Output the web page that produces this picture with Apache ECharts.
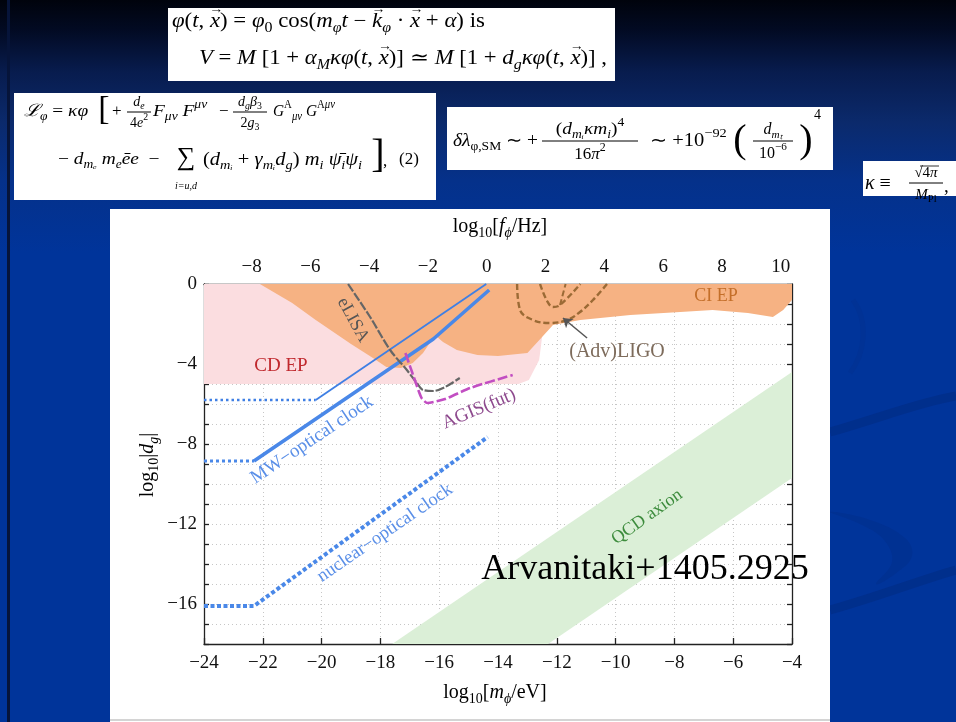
<!DOCTYPE html>
<html>
<head>
<meta charset="utf-8">
<script src="https://cdn.jsdelivr.net/npm/echarts@6/dist/echarts.min.js"></script>
<style>
  html, body { margin: 0; padding: 0; background: #00349a; }
  #c { width: 956px; height: 722px; }
</style>
</head>
<body>
<div id="c"></div>
<script>
// ---- axis ticks ----
const massTicks = [-24, -22, -20, -18, -16, -14, -12, -10, -8, -6, -4];   // log10[m/eV]
const freqTicks = [-8, -6, -4, -2, 0, 2, 4, 6, 8, 10];                    // log10[f/Hz]
const couplingTicks = [0, -4, -8, -12, -16];                              // log10|d_g|
const LOG_HZ_PER_EV = 14.383;                                             // log10(1 eV / h in Hz)

// ---- excluded / projected regions, points are [log10 m, log10 |d_g|] ----
const cdEP = [[-24, 0], [-13.0, 0], [-12.5, -2.65], [-12.6, -3.8], [-12.95, -4.8], [-13.3, -5.0], [-24, -5.0]];
const ciEP = [[-22.1, 0], [-21.0, -0.95], [-20.2, -1.8], [-19.0, -3.0], [-18.2, -3.75], [-17.8, -4.15],
              [-17.3, -4.2], [-16.9, -3.95], [-16.55, -3.45], [-16.3, -2.9], [-16.07, -2.65],
              [-15.87, -2.9], [-15.4, -3.3], [-14.7, -3.55], [-14.0, -3.6], [-13.0, -3.45],
              [-12.5, -2.65], [-12.13, -2.05], [-11.2, -1.8], [-9.5, -1.55], [-7.8, -1.4],
              [-6.7, -1.3], [-5.5, -1.45], [-4.65, -1.65], [-4.3, -1.3], [-4, -0.8], [-4, 0]];
const qcdAxion = [[-17.6, -18], [-12.3, -18], [-4, -9.7], [-4, -4.4]];

// ---- sensitivity curves ----
const mwClockFlat = [[-24, -8.85], [-22.3, -8.85]];
const mwClock = [[-22.3, -8.85], [-16.2, -2.75], [-14.3, -0.3]];
const mwClockNowFlat = [[-24, -5.8], [-20.2, -5.8]];
const mwClockNow = [[-20.2, -5.8], [-14.4, 0]];
const nuclearClock = [[-24, -16.1], [-22.3, -16.1], [-14.35, -7.65]];
const eLISA = [[-19.1, 0], [-18.35, -1.65], [-17.67, -3.3], [-17.1, -4.3], [-16.76, -4.95],
               [-16.55, -5.3], [-16.2, -5.35], [-15.8, -5.15], [-15.3, -4.7]];
const agis = [[-17.15, -3.45], [-16.9, -4.5], [-16.6, -5.7], [-16.4, -5.95], [-15.8, -5.75],
              [-14.95, -5.2], [-13.5, -4.55]];
const ligoOuter = [[-13.35, 0], [-13.25, -1.3], [-12.81, -1.8], [-12.23, -1.95], [-11.65, -1.8],
                   [-11.21, -1.4], [-10.77, -0.8], [-10.29, 0]];
const ligoInner = [[-12.57, 0], [-12.33, -0.85], [-12.13, -1.15], [-11.89, -1.05], [-11.2, 0]];
const ligoBranch = [[-11.89, -1.05], [-11.7, 0]];
const ligoPointer = [[-10.97, -2.7], [-11.79, -1.7]];

const SERIF = '"Liberation Serif", "Times New Roman", serif';
const minus = v => String(v).replace('-', '\u2212');

// ---- small math typesetting helper: lays out roman / italic / sub / sup runs ----
const measureCtx = document.createElement('canvas').getContext('2d');
const RUN = {
  r:  { s: 1,   it: false, dy: 0 },
  i:  { s: 1,   it: true,  dy: 0 },
  v:  { s: 1,   it: true,  dy: 0, vec: true },     // italic with vector arrow
  b:  { s: 0.7, it: true,  dy: 0.3 },               // italic subscript
  br: { s: 0.7, it: false, dy: 0.3 },               // roman subscript
  t:  { s: 0.7, it: false, dy: -0.4 },              // roman superscript
  ti: { s: 0.7, it: true,  dy: -0.4 }               // italic superscript
};
function typeset(x, y, parts, fs, opt) {
  opt = opt || {};
  const color = opt.color || '#000';
  const kids = [];
  let cx = 0;
  parts.forEach(function (p) {
    const K = RUN[p[0]];
    const size = fs * K.s;
    measureCtx.font = (K.it ? 'italic ' : '') + size + 'px ' + SERIF;
    const w = measureCtx.measureText(p[1]).width;
    kids.push({ type: 'text', x: cx, y: K.dy * fs, z: 50, silent: true,
      style: { text: p[1], fontFamily: SERIF, fontSize: size, fontStyle: K.it ? 'italic' : 'normal',
               fill: color, align: 'left', verticalAlign: 'middle' } });
    if (K.vec) {
      kids.push({ type: 'text', x: cx + w / 2 + fs * 0.06, y: -fs * 0.62, z: 50, silent: true,
        style: { text: '\u2192', fontFamily: SERIF, fontSize: fs * 0.62, fill: color,
                 align: 'center', verticalAlign: 'middle' } });
    }
    cx += w;
  });
  const shift = opt.align === 'center' ? -cx / 2 : 0;
  kids.forEach(k => { k.x += shift; });
  const sx = opt.width ? Math.min(opt.width / cx, 1.14) : 1;
  return { type: 'group', x: x, y: y, rotation: opt.rot || 0, scaleX: sx, z: 50, children: kids };
}
function lab(x, y, text, fs, color, rot, italic) {
  return {
    type: 'text', x: x, y: y, z: 50, rotation: rot || 0, silent: true,
    style: { text: text, fontFamily: SERIF, fontSize: fs, fill: color,
             fontStyle: italic ? 'italic' : 'normal', align: 'center', verticalAlign: 'middle' }
  };
}
function frac(cx, yBar, num, den, fs, w, nw, dw) {
  return [
    typeset(cx, yBar - fs * 0.68, num, fs, { align: 'center', width: nw }),
    { type: 'line', z: 50, silent: true, shape: { x1: cx - w / 2, y1: yBar, x2: cx + w / 2, y2: yBar },
      style: { stroke: '#000', lineWidth: 1 } },
    typeset(cx, yBar + fs * 0.78, den, fs, { align: 'center', width: dw })
  ];
}
function box(x, y, w, h, fill) {
  return { type: 'rect', z: -20, silent: true, shape: { x: x, y: y, width: w, height: h }, style: { fill: fill || '#fff' } };
}

// ---- slide decoration ----
const deco = [
  { type: 'rect', z: -30, silent: true, shape: { x: 7, y: 0, width: 3, height: 722 }, style: { fill: '#06143a' } },
  { type: 'bezierCurve', z: -25, silent: true,
    shape: { x1: 830, y1: 432, x2: 956, y2: 396, cpx1: 880, cpy1: 418, cpx2: 920, cpy2: 402 },
    style: { stroke: '#002f8c', lineWidth: 9, fill: null } },
  { type: 'bezierCurve', z: -25, silent: true,
    shape: { x1: 830, y1: 610, x2: 956, y2: 570, cpx1: 880, cpy1: 596, cpx2: 920, cpy2: 580 },
    style: { stroke: '#002f8c', lineWidth: 9, fill: null } },
  { type: 'polygon', z: -25, silent: true,
    shape: { points: [[830, 512], [870, 520], [905, 538], [912, 556], [895, 574], [876, 584], [892, 562], [884, 540], [860, 524]], smooth: 0.4 },
    style: { fill: '#003192' } },
  { type: 'bezierCurve', z: -25, silent: true,
    shape: { x1: 853, y1: 300, x2: 850, y2: 373, cpx1: 868, cpy1: 320, cpx2: 866, cpy2: 352 },
    style: { stroke: '#013295', lineWidth: 5, fill: null } },
  box(110, 209, 720, 513),
  box(110, 719, 720, 2, '#d4d4d4'),
  box(168, 8, 447, 73),
  box(14, 93, 422, 107),
  box(447, 107, 386, 63),
  box(863, 161, 93, 35)
];

// ---- equations ----
const eqs = [
  typeset(172, 22, [['i', 'φ'], ['r', '('], ['i', 't'], ['r', ', '], ['v', 'x'], ['r', ') = '], ['i', 'φ'], ['br', '0'],
               ['r', ' cos('], ['i', 'm'], ['b', 'φ'], ['i', 't'], ['r', ' − '], ['v', 'k'], ['b', 'φ'], ['r', ' · '],
               ['v', 'x'], ['r', ' + '], ['i', 'α'], ['r', ') is']], 20, { width: 333 }),
  typeset(199, 59, [['i', 'V'], ['r', ' = '], ['i', 'M'], ['r', ' [1 + '], ['i', 'α'], ['b', 'M'], ['i', 'κφ'], ['r', '('], ['i', 't'],
               ['r', ', '], ['v', 'x'], ['r', ')] ≃ '], ['i', 'M'], ['r', ' [1 + '], ['i', 'd'], ['b', 'g'], ['i', 'κφ'],
               ['r', '('], ['i', 't'], ['r', ', '], ['v', 'x'], ['r', ')] ,']], 20, { width: 408 }),

  typeset(24, 112, [['i', 'ℒ'], ['b', 'φ'], ['r', ' = '], ['i', 'κφ']], 17, { width: 73 }),
  lab(104, 110, '[', 34, '#000'),
  typeset(112, 112, [['r', '+']], 17),
  ...frac(139, 112, [['i', 'd'], ['b', 'e']], [['r', '4'], ['i', 'e'], ['t', '2']], 14, 24),
  typeset(153, 112, [['i', 'F'], ['b', 'μν'], ['r', ' '], ['i', 'F'], ['ti', 'μν']], 17, { width: 60 }),
  typeset(219, 112, [['r', '−']], 17),
  ...frac(250, 112, [['i', 'd'], ['b', 'g'], ['i', 'β'], ['br', '3']], [['r', '2'], ['i', 'g'], ['br', '3']], 14, 34),
  typeset(273, 112, [['i', 'G'], ['t', 'A'], ['b', 'μν'], ['r', ' '], ['i', 'G'], ['t', 'A'], ['ti', 'μν']], 17, { width: 62 }),

  typeset(58, 160, [['r', '− '], ['i', 'd'], ['b', 'mₑ'], ['r', ' '], ['i', 'm'], ['b', 'e'], ['i', 'ēe'], ['r', '  −']], 17, { width: 109 }),
  lab(186, 158, '∑', 26, '#000'),
  lab(186, 186, 'i=u,d', 10, '#000', 0, true),
  typeset(203, 160, [['r', '('], ['i', 'd'], ['b', 'mᵢ'], ['r', ' + '], ['i', 'γ'], ['b', 'mᵢ'], ['i', 'd'], ['b', 'g'], ['r', ')'],
                ['r', ' '], ['i', 'm'], ['b', 'i'], ['r', ' '], ['i', 'ψ\u0304'], ['b', 'i'], ['i', 'ψ'], ['b', 'i']], 18, { width: 170 }),
  lab(378, 156, ']', 40, '#000'),
  typeset(383, 162, [['r', ',']], 17),
  typeset(399, 160, [['r', '(2)']], 17),

  typeset(453, 141, [['i', 'δλ'], ['br', 'φ,SM'], ['r', ' ∼ +']], 18, { width: 85 }),
  ...frac(590, 141, [['r', '('], ['i', 'd'], ['b', 'mᵢ'], ['i', 'κm'], ['b', 'i'], ['r', ')'], ['t', '4']],
          [['r', '16'], ['i', 'π'], ['t', '2']], 17, 96, 94),
  typeset(650, 141, [['r', '∼ +10'], ['t', '−92']], 18, { width: 80 }),
  lab(740, 141, '(', 40, '#000'),
  ...frac(773, 141, [['i', 'd'], ['b', 'mₜ']], [['r', '10'], ['t', '−6']], 16, 40),
  lab(806, 141, ')', 40, '#000'),
  typeset(814, 115, [['r', '4']], 14),

  typeset(865, 184, [['i', 'κ'], ['r', ' ≡ ']], 20),
  ...frac(926, 183, [['r', '√4'], ['i', 'π']], [['i', 'M'], ['br', 'Pl']], 15, 34),
  { type: 'line', z: 50, silent: true, shape: { x1: 920, y1: 166, x2: 939, y2: 166 }, style: { stroke: '#000', lineWidth: 0.8 } },
  typeset(944, 187, [['r', ',']], 19)
];

// ---- plot annotations ----
const notes = [
  typeset(500, 227, [['r', 'log'], ['br', '10'], ['r', '['], ['i', 'f'], ['b', 'ϕ'], ['r', '/Hz]']], 20, { align: 'center' }),
  typeset(495, 693, [['r', 'log'], ['br', '10'], ['r', '['], ['i', 'm'], ['b', 'ϕ'], ['r', '/eV]']], 20, { align: 'center' }),
  typeset(148, 465, [['r', 'log'], ['br', '10'], ['r', '|'], ['i', 'd'], ['b', 'g'], ['r', '|']], 20, { align: 'center', rot: Math.PI / 2 }),
  lab(281, 366, 'CD EP', 19, '#c0282d'),
  lab(716, 296, 'CI EP', 18, '#c46f2a'),
  lab(617, 352, '(Adv)LIGO', 20, '#7d6b5b'),
  lab(353, 320, 'eLISA', 18, '#555555', -1.07),
  lab(479, 409, 'AGIS(fut)', 19, '#8e4a8e', 0.40),
  lab(312, 440, 'MW−optical clock', 19, '#5a8fe8', 0.59),
  lab(385, 533, 'nuclear−optical clock', 18.5, '#5a8fe8', 0.60),
  lab(647, 517, 'QCD axion', 18, '#3d8c3d', 0.62),
  lab(645, 570, 'Arvanitaki+1405.2925', 36, '#000')
];

function region(name, pts, color) {
  return {
    type: 'custom', name: name, coordinateSystem: 'cartesian2d', xAxisIndex: 0, yAxisIndex: 0,
    data: pts, silent: true, z: 1, clip: true,
    renderItem: function (params, api) {
      if (params.dataIndex !== 0) return null;
      return { type: 'polygon', shape: { points: pts.map(p => api.coord(p)) }, style: { fill: color } };
    }
  };
}
function curve(name, pts, color, width, dash, smooth, z) {
  return {
    type: 'line', name: name, data: pts, showSymbol: false, symbol: 'none', silent: true,
    smooth: smooth || false, z: z || 5, clip: true,
    lineStyle: { color: color, width: width, type: dash || 'solid', cap: 'butt' }
  };
}

const axisLineStyle = { color: '#222', width: 1.3 };
const tickFont = { fontFamily: SERIF, fontSize: 19, color: '#111' };

const option = {
  backgroundColor: new echarts.graphic.LinearGradient(0, 0, 0, 1, [
    { offset: 0, color: '#00030c' }, { offset: 0.04, color: '#020a22' }, { offset: 0.1, color: '#081c4e' },
    { offset: 0.17, color: '#0b2a6c' }, { offset: 0.25, color: '#05318a' }, { offset: 0.35, color: '#00349a' },
    { offset: 1, color: '#00349a' }
  ]),
  animation: false,
  grid: { left: 204, top: 284, width: 588, height: 360, containLabel: false, outerBoundsMode: 'none' },
  xAxis: [
    {
      type: 'value', position: 'bottom', min: -24, max: -4, interval: 2,
      axisLine: { show: true, onZero: false, lineStyle: axisLineStyle },
      axisTick: { show: true, inside: true, length: 6, lineStyle: axisLineStyle },
      axisLabel: Object.assign({ margin: 10, formatter: v => massTicks.includes(v) ? minus(v) : '' }, tickFont),
      splitLine: { show: true, lineStyle: { color: '#c6c6c6', width: 1, type: [1, 3] } }
    },
    {
      type: 'value', position: 'top', min: -24, max: -4,
      axisLine: { show: true, onZero: false, lineStyle: axisLineStyle },
      axisTick: { show: true, inside: true, length: 6, lineStyle: axisLineStyle,
                  customValues: freqTicks.map(f => f - LOG_HZ_PER_EV) },
      axisLabel: Object.assign({ margin: 7, customValues: freqTicks.map(f => f - LOG_HZ_PER_EV),
                                 formatter: v => minus(Math.round(v + LOG_HZ_PER_EV)) }, tickFont),
      splitLine: { show: false }
    }
  ],
  yAxis: [
    {
      type: 'value', position: 'left', min: -18, max: 0, interval: 1,
      axisLine: { show: true, onZero: false, lineStyle: axisLineStyle },
      axisTick: { show: true, inside: true, length: 5, lineStyle: axisLineStyle },
      axisLabel: Object.assign({ margin: 7, formatter: v => couplingTicks.includes(v) ? minus(v) : '' }, tickFont),
      splitLine: { show: true, lineStyle: { color: '#c6c6c6', width: 1, type: [1, 3] } }
    },
    {
      type: 'value', position: 'right', min: -18, max: 0, interval: 1,
      axisLine: { show: true, onZero: false, lineStyle: axisLineStyle },
      axisTick: { show: true, inside: true, length: 5, lineStyle: axisLineStyle },
      axisLabel: { show: false },
      splitLine: { show: false }
    }
  ],
  series: [
    region('CD EP', cdEP, '#fbdde0'),
    region('CI EP', ciEP, '#f6b283'),
    region('QCD axion', qcdAxion, '#dbefd7'),
    curve('eLISA', eLISA, '#666666', 2.2, [9, 2], 0.3, 6),
    curve('AGIS(fut)', agis, '#c24ec2', 2.6, [10, 3], 0.2, 6),
    curve('LIGO outer', ligoOuter, '#9b6a35', 2.4, [6, 3], 0.4, 6),
    curve('LIGO inner', ligoInner, '#9b6a35', 2.4, [6, 3], 0.4, 6),
    curve('LIGO branch', ligoBranch, '#9b6a35', 2.0, [6, 3], 0, 6),
    curve('MW-optical clock (flat)', mwClockFlat, '#4a88e8', 3, [3, 3]),
    curve('MW-optical clock', mwClock, '#4a88e8', 3.6),
    curve('MW-optical clock now (flat)', mwClockNowFlat, '#3f7fe4', 2.6, [2.5, 3]),
    curve('MW-optical clock now', mwClockNow, '#3f7fe4', 1.8),
    curve('nuclear-optical clock', nuclearClock, '#4a88e8', 4, [4, 2.5]),
    {
      type: 'lines', coordinateSystem: 'cartesian2d', silent: true, z: 7,
      symbol: ['none', 'arrow'], symbolSize: 9,
      lineStyle: { color: '#555', width: 1.5, opacity: 1 },
      data: [{ coords: ligoPointer }]
    }
  ],
  graphic: { elements: deco.concat(eqs, notes) }
};

const chart = echarts.init(document.getElementById('c'), null, { renderer: 'canvas', width: 956, height: 722 });
chart.setOption(option);
</script>
</body>
</html>
